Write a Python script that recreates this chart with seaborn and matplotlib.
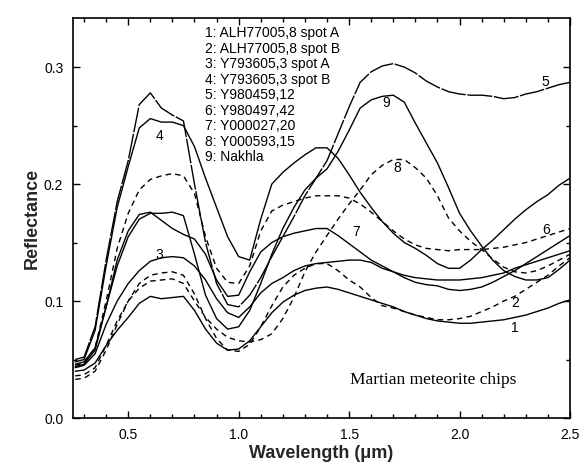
import numpy as np
import pandas as pd
import matplotlib
matplotlib.use("Agg")
import matplotlib.pyplot as plt
import seaborn as sns
from matplotlib.ticker import MultipleLocator

wavelength = [0.26, 0.30, 0.35, 0.40, 0.45, 0.50, 0.55, 0.60, 0.65, 0.70,
              0.75, 0.80, 0.85, 0.90, 0.95, 1.00, 1.05, 1.10, 1.15, 1.20,
              1.25, 1.30, 1.35, 1.40, 1.45, 1.50, 1.55, 1.60, 1.65, 1.70,
              1.75, 1.80, 1.85, 1.90, 1.95, 2.00, 2.05, 2.10, 2.15, 2.20,
              2.25, 2.30, 2.35, 2.40, 2.45, 2.50]

r1 = [0.040, 0.041, 0.047, 0.062, 0.075, 0.086, 0.098, 0.104, 0.102, 0.103,
      0.104, 0.092, 0.076, 0.064, 0.058, 0.059, 0.066, 0.078, 0.090, 0.099,
      0.105, 0.109, 0.111, 0.112, 0.110, 0.107, 0.104, 0.101, 0.098, 0.095,
      0.091, 0.088, 0.085, 0.083, 0.082, 0.081, 0.081, 0.082, 0.083, 0.084,
      0.086, 0.088, 0.091, 0.094, 0.098, 0.101]
r2 = [0.033, 0.034, 0.040, 0.058, 0.080, 0.100, 0.115, 0.122, 0.124, 0.125,
      0.122, 0.106, 0.085, 0.068, 0.058, 0.057, 0.063, 0.078, 0.096, 0.112,
      0.122, 0.128, 0.132, 0.132, 0.126, 0.118, 0.112, 0.103, 0.096, 0.094,
      0.091, 0.088, 0.086, 0.084, 0.084, 0.085, 0.087, 0.091, 0.095, 0.100,
      0.104, 0.110, 0.116, 0.122, 0.130, 0.137]
r3 = [0.043, 0.045, 0.055, 0.080, 0.100, 0.115, 0.126, 0.134, 0.137, 0.138,
      0.137, 0.130, 0.118, 0.102, 0.090, 0.086, 0.095, 0.107, 0.115, 0.120,
      0.126, 0.130, 0.132, 0.133, 0.134, 0.135, 0.135, 0.133, 0.128, 0.125,
      0.122, 0.120, 0.119, 0.118, 0.118, 0.118, 0.119, 0.120, 0.122, 0.124,
      0.128, 0.131, 0.134, 0.137, 0.140, 0.143]
r4 = [0.048, 0.050, 0.075, 0.130, 0.180, 0.215, 0.248, 0.256, 0.253, 0.253,
      0.250, 0.232, 0.205, 0.180, 0.155, 0.138, 0.135, 0.170, 0.200, 0.210,
      0.218, 0.225, 0.231, 0.231, 0.222, 0.208, 0.193, 0.180, 0.168, 0.158,
      0.150, 0.145, 0.139, 0.132, 0.128, 0.128, 0.135, 0.144, 0.152, 0.161,
      0.170, 0.178, 0.185, 0.191, 0.199, 0.205]
r5 = [0.050, 0.052, 0.078, 0.135, 0.185, 0.220, 0.268, 0.278, 0.265, 0.259,
      0.254, 0.200, 0.150, 0.115, 0.097, 0.095, 0.105, 0.120, 0.138, 0.155,
      0.172, 0.190, 0.205, 0.220, 0.243, 0.266, 0.287, 0.296, 0.301, 0.303,
      0.300, 0.295, 0.288, 0.283, 0.279, 0.277, 0.276, 0.276, 0.275, 0.273,
      0.274, 0.277, 0.279, 0.282, 0.285, 0.287]
r6 = [0.045, 0.047, 0.060, 0.100, 0.145, 0.175, 0.195, 0.204, 0.207, 0.209,
      0.207, 0.192, 0.155, 0.128, 0.116, 0.115, 0.130, 0.160, 0.177, 0.182,
      0.185, 0.188, 0.190, 0.190, 0.190, 0.188, 0.183, 0.176, 0.168, 0.160,
      0.153, 0.148, 0.145, 0.144, 0.143, 0.144, 0.144, 0.144, 0.145, 0.146,
      0.148, 0.150, 0.153, 0.156, 0.159, 0.162]
r7 = [0.044, 0.046, 0.058, 0.095, 0.135, 0.160, 0.174, 0.176, 0.169, 0.162,
      0.157, 0.153, 0.140, 0.118, 0.104, 0.105, 0.125, 0.142, 0.150, 0.155,
      0.158, 0.160, 0.162, 0.162, 0.156, 0.149, 0.142, 0.135, 0.130, 0.125,
      0.120, 0.116, 0.114, 0.113, 0.110, 0.109, 0.110, 0.112, 0.116, 0.121,
      0.126, 0.132, 0.138, 0.144, 0.150, 0.156]
r8 = [0.036, 0.037, 0.043, 0.062, 0.083, 0.100, 0.111, 0.117, 0.118, 0.119,
      0.115, 0.100, 0.086, 0.076, 0.069, 0.066, 0.065, 0.067, 0.072, 0.085,
      0.103, 0.125, 0.142, 0.156, 0.170, 0.183, 0.195, 0.208, 0.216, 0.221,
      0.221, 0.214, 0.205, 0.190, 0.171, 0.160, 0.151, 0.144, 0.136, 0.129,
      0.125, 0.124, 0.126, 0.130, 0.135, 0.140]
r9 = [0.046, 0.048, 0.060, 0.095, 0.130, 0.155, 0.170, 0.175, 0.175, 0.176,
      0.173, 0.140, 0.105, 0.085, 0.076, 0.078, 0.092, 0.115, 0.140, 0.162,
      0.180, 0.195, 0.205, 0.213, 0.228, 0.246, 0.265, 0.272, 0.275, 0.276,
      0.270, 0.252, 0.235, 0.218, 0.197, 0.175, 0.160, 0.147, 0.135, 0.126,
      0.121, 0.118, 0.118, 0.120, 0.127, 0.135]

sample_names = ["1: ALH77005,8 spot A", "2: ALH77005,8 spot B",
                "3: Y793605,3 spot A", "4: Y793605,3 spot B",
                "5: Y980459,12", "6: Y980497,42", "7: Y000027,20",
                "8: Y000593,15", "9: Nakhla"]
series = [r1, r2, r3, r4, r5, r6, r7, r8, r9]

# curve number labels: (label, x, y)
curve_labels = [("1", 2.25, 0.077), ("2", 2.25, 0.098), ("3", 0.64, 0.139),
                ("4", 0.64, 0.241), ("5", 2.39, 0.287), ("6", 2.39, 0.161),
                ("7", 1.53, 0.159), ("8", 1.72, 0.214), ("9", 1.67, 0.269)]

sns.set_theme(style="ticks")
plt.rcParams["font.family"] = ["Liberation Sans", "DejaVu Sans"]

rows = []
for name, vals in zip(sample_names, series):
    for w, v in zip(wavelength, vals):
        rows.append({"Wavelength": w, "Reflectance": v, "sample": name})
df = pd.DataFrame(rows)

dash_styles = {
    sample_names[0]: "",
    sample_names[1]: (4, 3),
    sample_names[2]: "",
    sample_names[3]: "",
    sample_names[4]: (18, 1.2),
    sample_names[5]: (4, 3),
    sample_names[6]: "",
    sample_names[7]: (4, 3),
    sample_names[8]: "",
}

fig = plt.figure(figsize=(5.87, 4.67), dpi=100)
ax = fig.add_axes([73 / 587, 1 - 418 / 467, (570 - 73) / 587, (418 - 18) / 467])

sns.lineplot(data=df, x="Wavelength", y="Reflectance", hue="sample",
             style="sample", palette={n: "black" for n in sample_names},
             dashes=dash_styles, legend=False, linewidth=1.0,
             estimator=None, sort=False, ax=ax)

ax.set_xlim(0.25, 2.5)
ax.set_ylim(0.0, 0.342)
ax.xaxis.set_major_locator(MultipleLocator(0.5))
ax.xaxis.set_minor_locator(MultipleLocator(0.1))
ax.yaxis.set_major_locator(MultipleLocator(0.1))
ax.yaxis.set_minor_locator(MultipleLocator(0.05))
ax.xaxis.set_major_formatter(matplotlib.ticker.FormatStrFormatter("%.1f"))
ax.yaxis.set_major_formatter(matplotlib.ticker.FormatStrFormatter("%.1f"))
ax.tick_params(which="both", direction="in", top=True, right=True,
               labelsize=10, color="black", labelcolor="black")
ax.tick_params(which="major", length=5, width=1.0, pad=7)
ax.tick_params(which="minor", length=3, width=1.0)
for s in ax.spines.values():
    s.set_linewidth(1.2)
    s.set_color("black")

ax.set_xlabel("Wavelength (\u03bcm)", fontsize=13, fontweight="bold", labelpad=2)
ax.set_ylabel("Reflectance", fontsize=13, fontweight="bold", labelpad=2)

for i, name in enumerate(sample_names):
    ax.text(0.848, 0.329 - i * 0.01325, name, fontsize=10, va="center",
            ha="left", color="black")

for lab, x, y in curve_labels:
    ax.text(x, y, lab, fontsize=10, ha="center", va="center", color="black")

ax.text(1.88, 0.0325, "Martian meteorite chips", fontsize=12.5,
        family=["Liberation Serif", "DejaVu Serif"], ha="center", va="center",
        color="black")

fig.savefig("out.png", dpi=100)
